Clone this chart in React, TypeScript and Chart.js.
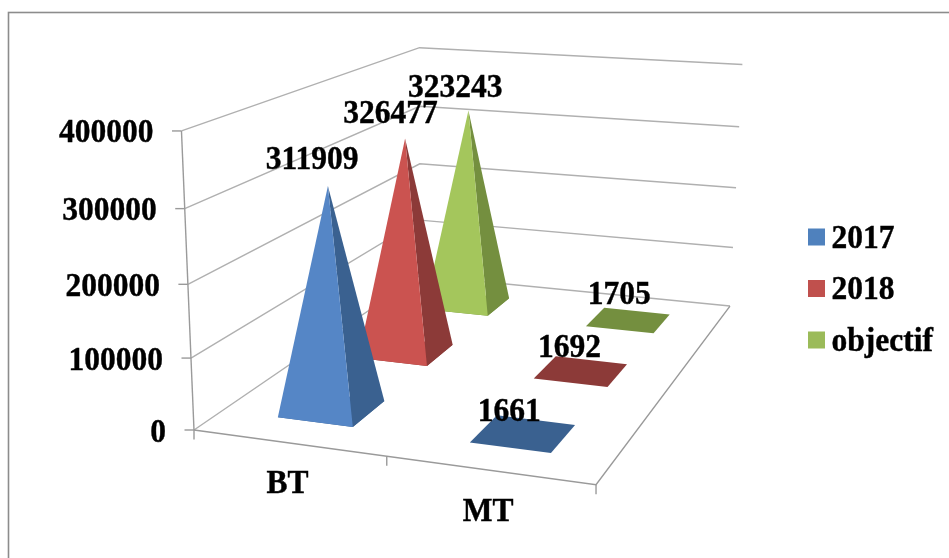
import React, { useEffect, useRef } from "react";
import { BarController, Chart, registerables } from "chart.js";

// Chart data
const categories = ["BT", "MT"];
const seriesNames = ["2017", "2018", "objectif"];
const values2017 = [311909, 1661];
const values2018 = [326477, 1692];
const valuesObjectif = [323243, 1705];
const yMax = 400000;
const yStep = 100000;

// Colours per series: legend swatch, lit front face, shaded side / flat base
const swatchColors = ["#4f81bd", "#c0504d", "#9bbb59"];
const faceColors = ["#5586c6", "#cb5350", "#a4c65c"];
const sideColors = ["#3a6190", "#8c3a38", "#748f3f"];

const FONT = '"Liberation Serif", "Times New Roman", serif';
const TEXT_FONT = `bold 31.5px ${FONT}`;
const GRID_COLOR = "#b0b0b0";
const AXIS_COLOR = "#9a9a9a";

// Perspective camera: (u, v, h) in the unit box -> canvas pixels
const CAM_X = [355, 365, -21.6, 194];
const CAM_Y = [16.5, -63.3, -305.6, 430];
const CAM_W = [-0.0789, 0.331, -0.05, 1];

type Pt = [number, number];
function project(u: number, v: number, h: number): Pt {
  const w = CAM_W[0] * u + CAM_W[1] * v + CAM_W[2] * h + CAM_W[3];
  return [
    (CAM_X[0] * u + CAM_X[1] * v + CAM_X[2] * h + CAM_X[3]) / w,
    (CAM_Y[0] * u + CAM_Y[1] * v + CAM_Y[2] * h + CAM_Y[3]) / w,
  ];
}

// Pyramid footprint relative to the category band and the depth slot
const BASE_FRACTION = 0.4;

function polygon(ctx: CanvasRenderingContext2D, pts: Pt[], fill: string) {
  ctx.beginPath();
  pts.forEach((p, i) => (i ? ctx.lineTo(p[0], p[1]) : ctx.moveTo(p[0], p[1])));
  ctx.closePath();
  ctx.fillStyle = fill;
  ctx.fill();
}

function polyline(ctx: CanvasRenderingContext2D, pts: Pt[], color: string, width = 1.4) {
  ctx.beginPath();
  pts.forEach((p, i) => (i ? ctx.lineTo(p[0], p[1]) : ctx.moveTo(p[0], p[1])));
  ctx.strokeStyle = color;
  ctx.lineWidth = width;
  ctx.stroke();
}

// Heavy serif text, slightly tall, sitting on an alphabetic baseline
function drawText(
  ctx: CanvasRenderingContext2D,
  text: string,
  x: number,
  baseline: number,
  align: CanvasTextAlign
) {
  ctx.save();
  ctx.translate(x, baseline);
  ctx.scale(1, 1.05);
  ctx.font = TEXT_FONT;
  ctx.textAlign = align;
  ctx.textBaseline = "alphabetic";
  ctx.fillStyle = "#000";
  ctx.strokeStyle = "#000";
  ctx.lineWidth = 0.4;
  ctx.fillText(text, 0, 0);
  ctx.strokeText(text, 0, 0);
  ctx.restore();
}

// Position of a data point inside the unit box, read through the chart's scales
function boxCoords(chart: any, datasetIndex: number, index: number, value: number) {
  const { x, y } = chart.scales;
  const u = x.getDecimalForPixel(x.getPixelForValue(index));
  const h = y.getDecimalForPixel(y.getPixelForValue(value));
  const v = (datasetIndex + 0.5) / chart.data.datasets.length;
  return { u, v, h };
}

class Pyramid3DController extends BarController {
  static id = "pyramid3d";
  static defaults = BarController.defaults;
  static overrides = BarController.overrides;

  draw() {
    const chart: any = this.chart;
    const ctx: CanvasRenderingContext2D = chart.ctx;
    const dataset: any = this.getDataset();
    const { x } = chart.scales;
    const band = x.getDecimalForPixel(x.getPixelForValue(1)) - x.getDecimalForPixel(x.getPixelForValue(0));
    const du = (band * BASE_FRACTION) / 2;
    const dv = BASE_FRACTION / chart.data.datasets.length / 2;

    dataset.data.forEach((value: number, i: number) => {
      const { u, v, h } = boxCoords(chart, this.index, i, value);
      const fl = project(u - du, v - dv, 0);
      const fr = project(u + du, v - dv, 0);
      const br = project(u + du, v + dv, 0);
      const bl = project(u - du, v + dv, 0);
      const apex = project(u, v, h);

      polygon(ctx, [fl, fr, br, bl], dataset.sideColor);
      // A pyramid too low to rise past its back edge reads as just its base
      if (apex[1] < Math.min(bl[1], br[1])) {
        polygon(ctx, [fr, br, apex], dataset.sideColor);
        polygon(ctx, [fl, fr, apex], dataset.faceColor);
      }
    });
  }
}

Chart.register(...registerables, Pyramid3DController);

const framePlugin = {
  id: "frame",
  beforeDraw(chart: any) {
    const { ctx, width, height } = chart;
    ctx.save();
    ctx.fillStyle = "#ffffff";
    ctx.fillRect(0, 0, width, height);
    ctx.strokeStyle = "#8c8c8c";
    ctx.lineWidth = 1.6;
    ctx.strokeRect(8.5, 12.5, width + 40, height + 40);
    ctx.restore();
  },
};

// Walls, floor, axis ticks and axis labels of the 3D box
const boxPlugin = {
  id: "box3d",
  beforeDatasetsDraw(chart: any) {
    const { ctx, scales } = chart;
    const { x, y } = scales;
    ctx.save();

    y.ticks.forEach((tick: any) => {
      const h = y.getDecimalForPixel(y.getPixelForValue(tick.value));
      polyline(ctx, [project(0, 0, h), project(0, 1, h), project(1, 1, h)], GRID_COLOR);
      const p = project(0, 0, h);
      polyline(ctx, [[p[0] - 9.5, p[1]], p], AXIS_COLOR);
      drawText(ctx, tick.label, p[0] - 28, p[1] + 11.5, "right");
    });

    polyline(ctx, [project(0, 0, 0), project(0, 0, 1)], AXIS_COLOR);
    polyline(ctx, [project(0, 0, 0), project(1, 0, 0), project(1, 1, 0)], AXIS_COLOR);
    [0, 0.5, 1].forEach((u) => {
      const p = project(u, 0, 0);
      polyline(ctx, [p, [p[0], p[1] + 9.5]], AXIS_COLOR);
    });

    categories.forEach((_, i) => {
      const u = x.getDecimalForPixel(x.getPixelForValue(i));
      const p = project(u, 0, 0);
      drawText(ctx, x.getLabelForValue(i), p[0] - 1, p[1] + 50.5, "center");
    });
    ctx.restore();
  },
  afterDatasetsDraw(chart: any) {
    const { ctx } = chart;
    ctx.save();

    // Value labels above each pyramid's apex
    chart.data.datasets.forEach((dataset: any, d: number) => {
      dataset.data.forEach((value: number, i: number) => {
        const { u, v, h } = boxCoords(chart, d, i, value);
        const p = project(u, v, h);
        const tall = h > 0.1;
        const dx = tall ? -16.5 + 4 * v : -15 + 7 * v;
        const dy = tall ? -18 + 5 * v : -10.5 - 5.5 * v;
        drawText(ctx, String(value), p[0] + dx, p[1] + dy, "center");
      });
    });

    // Legend column at the right of the box
    chart.data.datasets.forEach((dataset: any, d: number) => {
      const cy = 237 + d * 51.5;
      ctx.fillStyle = dataset.backgroundColor;
      ctx.fillRect(808, cy - 8.5, 17, 17);
      drawText(ctx, dataset.label, 831.5, cy + 10.5, "left");
    });
    ctx.restore();
  },
};

export default function App() {
  const canvasRef = useRef<HTMLCanvasElement | null>(null);

  useEffect(() => {
    const seriesValues = [values2017, values2018, valuesObjectif];
    const chart = new Chart(canvasRef.current as HTMLCanvasElement, {
      type: "pyramid3d" as any,
      data: {
        labels: categories,
        datasets: seriesNames.map((label, i) => ({
          label,
          data: seriesValues[i],
          backgroundColor: swatchColors[i],
          faceColor: faceColors[i],
          sideColor: sideColors[i],
          clip: false,
        })) as any,
      },
      options: {
        animation: false,
        responsive: false,
        events: [],
        plugins: { legend: { display: false }, tooltip: { enabled: false } },
        scales: {
          x: { type: "category", display: false, offset: true },
          y: {
            type: "linear",
            display: false,
            min: 0,
            max: yMax,
            ticks: { stepSize: yStep, callback: (value: any) => String(value) },
          },
        },
      },
      plugins: [framePlugin, boxPlugin],
    });
    return () => chart.destroy();
  }, []);

  return (
    <div style={{ position: "fixed", left: 0, top: 0, width: 949, height: 558, overflow: "hidden" }}>
      <canvas ref={canvasRef} width={949} height={558} style={{ display: "block" }} />
    </div>
  );
}
